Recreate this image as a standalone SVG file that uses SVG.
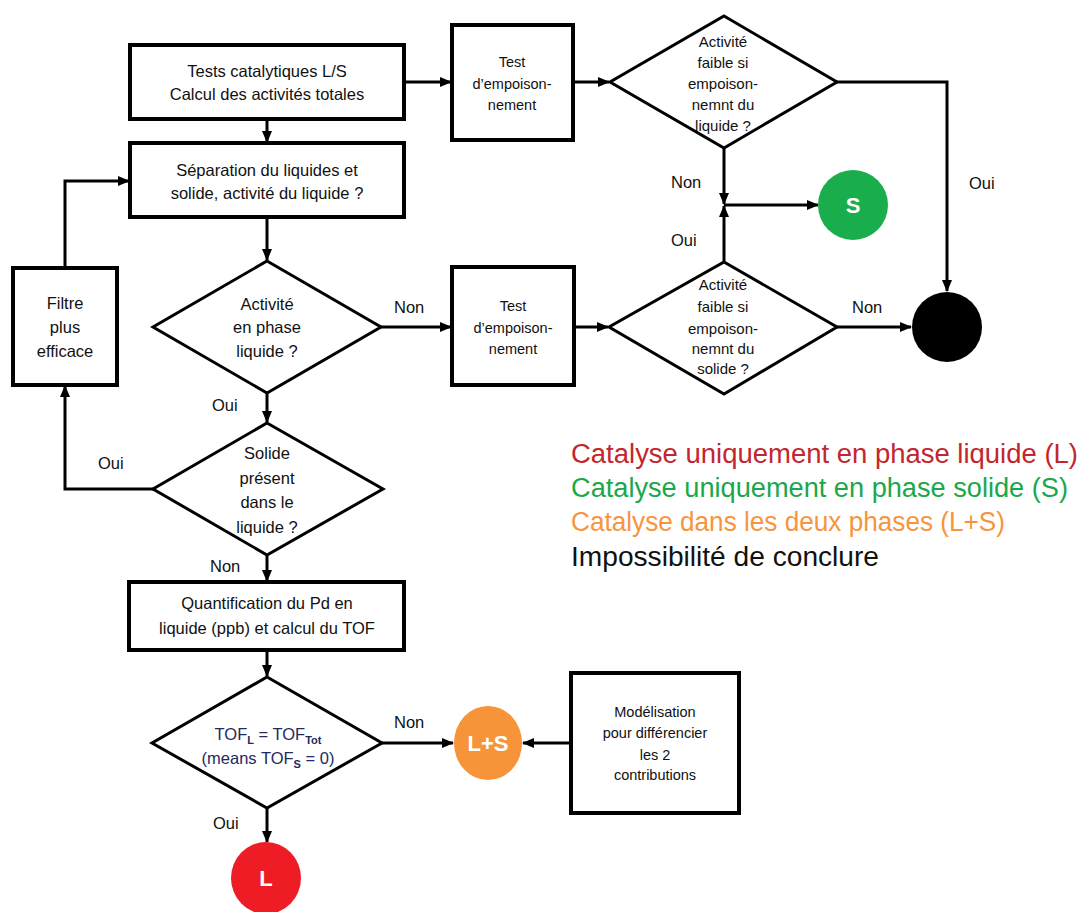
<svg xmlns="http://www.w3.org/2000/svg" width="1083" height="912" viewBox="0 0 1083 912">
<style>
  .box { fill: #fff; stroke: #000; stroke-width: 4; }
  .dia { fill: #fff; stroke: #000; stroke-width: 3; stroke-linejoin: miter; }
  .con { fill: none; stroke: #000; stroke-width: 3; }
  .t { font-family: "Liberation Sans", Arial, sans-serif; fill: #111; text-anchor: middle; }
  .t16 { font-size: 16.5px; }
  .t15 { font-size: 15px; }
  .t14 { font-size: 14.5px; }
  .lbl { font-family: "Liberation Sans", Arial, sans-serif; font-size: 16.5px; fill: #111; }
  .circ { font-family: "Liberation Sans", Arial, sans-serif; font-size: 22px; font-weight: bold; fill: #fff; text-anchor: middle; }
  .leg { font-family: "Liberation Sans", Arial, sans-serif; font-size: 27px; }
</style>
<defs>
  <marker id="arr" markerUnits="userSpaceOnUse" markerWidth="12" markerHeight="10" refX="11" refY="5" orient="auto">
    <path d="M0,0 L12,5 L0,10 z" fill="#000"/>
  </marker>
</defs>
<rect width="1083" height="912" fill="#fff"/>

<g id="connectors">
  <line class="con" x1="404" y1="82" x2="451" y2="82" marker-end="url(#arr)"/>
  <line class="con" x1="573" y1="82" x2="609" y2="82" marker-end="url(#arr)"/>
  <line class="con" x1="267" y1="119" x2="267" y2="142" marker-end="url(#arr)"/>
  <line class="con" x1="267" y1="217" x2="267" y2="260" marker-end="url(#arr)"/>
  <line class="con" x1="381" y1="327" x2="451" y2="327" marker-end="url(#arr)"/>
  <line class="con" x1="574" y1="327" x2="608" y2="327" marker-end="url(#arr)"/>
  <line class="con" x1="267" y1="393" x2="267" y2="422" marker-end="url(#arr)"/>
  <polyline class="con" points="153,489 65,489 65,386" marker-end="url(#arr)"/>
  <polyline class="con" points="65,268 65,181 129,181" marker-end="url(#arr)"/>
  <line class="con" x1="267" y1="555" x2="267" y2="581" marker-end="url(#arr)"/>
  <line class="con" x1="267" y1="650" x2="267" y2="676" marker-end="url(#arr)"/>
  <line class="con" x1="382" y1="743" x2="453" y2="743" marker-end="url(#arr)"/>
  <line class="con" x1="571" y1="743" x2="523" y2="743" marker-end="url(#arr)"/>
  <line class="con" x1="267" y1="808" x2="267" y2="842" marker-end="url(#arr)"/>
  <polyline class="con" points="837,82 947,82 947,291" marker-end="url(#arr)"/>
  <line class="con" x1="724" y1="148" x2="724" y2="204" marker-end="url(#arr)"/>
  <line class="con" x1="724" y1="262" x2="724" y2="206" marker-end="url(#arr)"/>
  <line class="con" x1="724" y1="205" x2="818" y2="205" marker-end="url(#arr)"/>
  <line class="con" x1="837" y1="327" x2="911" y2="327" marker-end="url(#arr)"/>
</g>

<g id="labels">
  <text class="lbl" x="671" y="188">Non</text>
  <text class="lbl" x="671" y="246">Oui</text>
  <text class="lbl" x="969" y="189">Oui</text>
  <text class="lbl" x="852" y="313">Non</text>
  <text class="lbl" x="394" y="313">Non</text>
  <text class="lbl" x="212" y="411">Oui</text>
  <text class="lbl" x="98" y="469">Oui</text>
  <text class="lbl" x="210" y="572">Non</text>
  <text class="lbl" x="394" y="728">Non</text>
  <text class="lbl" x="213" y="829">Oui</text>
</g>

<g id="n-tests">
  <rect class="box" x="130" y="45" width="274" height="74"/>
  <text class="t t16" x="267" y="77">Tests catalytiques L/S</text>
  <text class="t t16" x="267" y="100">Calcul des activités totales</text>
</g>

<g id="n-separation">
  <rect class="box" x="130" y="143" width="274" height="74"/>
  <text class="t t16" x="267" y="176">Séparation du liquides et</text>
  <text class="t t16" x="267" y="199">solide, activité du liquide ?</text>
</g>

<g id="n-test1">
  <rect class="box" x="452" y="25" width="121" height="115"/>
  <text class="t t14" x="512" y="67">Test</text>
  <text class="t t14" x="512" y="89">d’empoison-</text>
  <text class="t t14" x="512" y="110">nement</text>
</g>

<g id="n-dia-liq">
  <polygon class="dia" points="724,16 837,82 724,148 610,82"/>
  <text class="t t15" x="723" y="47">Activité</text>
  <text class="t t15" x="723" y="68">faible si</text>
  <text class="t t15" x="723" y="89">empoison-</text>
  <text class="t t15" x="723" y="110">nemnt du</text>
  <text class="t t15" x="723" y="131">liquide ?</text>
</g>

<g id="n-S">
  <circle cx="853" cy="205" r="35" fill="#1aad4b"/>
  <text class="circ" x="853" y="213">S</text>
</g>

<g id="n-black">
  <circle cx="947" cy="327" r="35" fill="#000"/>
</g>

<g id="n-filtre">
  <rect class="box" x="13" y="268" width="104" height="117"/>
  <text class="t t16" x="65" y="309">Filtre</text>
  <text class="t t16" x="65" y="333">plus</text>
  <text class="t t16" x="65" y="357">efficace</text>
</g>

<g id="n-dia-phase">
  <polygon class="dia" points="267,261 381,327 267,393 153,327"/>
  <text class="t t16" x="267" y="310">Activité</text>
  <text class="t t16" x="267" y="333">en phase</text>
  <text class="t t16" x="267" y="357">liquide ?</text>
</g>

<g id="n-test2">
  <rect class="box" x="452" y="267" width="122" height="118"/>
  <text class="t t14" x="513" y="311">Test</text>
  <text class="t t14" x="513" y="333">d’empoison-</text>
  <text class="t t14" x="513" y="354">nement</text>
</g>

<g id="n-dia-sol">
  <polygon class="dia" points="724,262 837,327 724,394 609,327"/>
  <text class="t t15" x="723" y="290">Activité</text>
  <text class="t t15" x="723" y="312">faible si</text>
  <text class="t t15" x="723" y="334">empoison-</text>
  <text class="t t15" x="723" y="354">nemnt du</text>
  <text class="t t15" x="723" y="374">solide ?</text>
</g>

<g id="n-dia-present">
  <polygon class="dia" points="267,423 383,489 267,555 153,489"/>
  <text class="t t16" x="267" y="459">Solide</text>
  <text class="t t16" x="267" y="484">présent</text>
  <text class="t t16" x="267" y="508">dans le</text>
  <text class="t t16" x="267" y="533">liquide ?</text>
</g>

<g id="n-quant">
  <rect class="box" x="129" y="582" width="275" height="68"/>
  <text class="t t16" x="267" y="609">Quantification du Pd en</text>
  <text class="t t16" x="267" y="634">liquide (ppb) et calcul du TOF</text>
</g>

<g id="n-dia-tof">
  <polygon class="dia" points="267,677 382,743 267,808 152,743"/>
  <text class="t t16" x="268" y="740" style="fill:#232a5c">TOF<tspan font-size="11" font-weight="bold" dy="4">L</tspan><tspan dy="-4"> = TOF</tspan><tspan font-size="11" font-weight="bold" dy="4">Tot</tspan></text>
  <text class="t t16" x="268" y="764" style="fill:#232a5c">(means TOF<tspan font-size="11" font-weight="bold" dy="4">S</tspan><tspan dy="-4"> = 0)</tspan></text>
</g>

<g id="n-LS">
  <ellipse cx="488" cy="743" rx="34" ry="37" fill="#f7943a"/>
  <text class="circ" x="488" y="751">L+S</text>
</g>

<g id="n-model">
  <rect class="box" x="571" y="673" width="168" height="140"/>
  <text class="t t14" x="655" y="717">Modélisation</text>
  <text class="t t14" x="655" y="738">pour différencier</text>
  <text class="t t14" x="655" y="760">les 2</text>
  <text class="t t14" x="655" y="780">contributions</text>
</g>

<g id="n-L">
  <ellipse cx="266" cy="878" rx="35" ry="36" fill="#ee1c24"/>
  <text class="circ" x="266" y="886">L</text>
</g>

<g id="legend">
  <text class="leg" x="571" y="463" fill="#c3262e" textLength="507" lengthAdjust="spacingAndGlyphs">Catalyse uniquement en phase liquide (L)</text>
  <text class="leg" x="571" y="497" fill="#1aa84b" textLength="497" lengthAdjust="spacingAndGlyphs">Catalyse uniquement en phase solide (S)</text>
  <text class="leg" x="571" y="531" fill="#f7953f" textLength="434" lengthAdjust="spacingAndGlyphs">Catalyse dans les deux phases (L+S)</text>
  <text class="leg" x="571" y="566" fill="#111" textLength="308" lengthAdjust="spacingAndGlyphs">Impossibilité de conclure</text>
</g>
</svg>
